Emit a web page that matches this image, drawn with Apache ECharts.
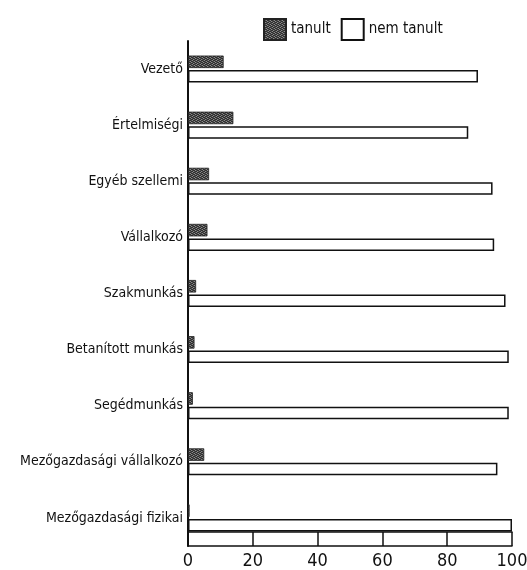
<!DOCTYPE html>
<html>
<head>
<meta charset="utf-8">
<script src="https://cdn.jsdelivr.net/npm/echarts@6/dist/echarts.min.js"></script>
<style>
html,body{margin:0;padding:0;background:#fff;}
#chart{width:527px;height:570px;}
</style>
</head>
<body>
<div id="chart"></div>
<script>
var categories = ['Vezető', 'Értelmiségi', 'Egyéb szellemi', 'Vállalkozó', 'Szakmunkás', 'Betanított munkás', 'Segédmunkás', 'Mezőgazdasági vállalkozó', 'Mezőgazdasági fizikai'];
var tanult = [11, 14, 6.5, 6, 2.5, 2, 1.5, 5, 0.5];
var nemTanult = [89.5, 86.5, 94, 94.5, 98, 99, 99, 95.5, 100];
var seriesNames = ['tanult', 'nem tanult'];
var xTicks = [0, 20, 40, 60, 80, 100];

var FONT = '"Liberation Sans Narrow", "DejaVu Sans Condensed", "Arial Narrow", sans-serif';

// dithered dark-gray texture for the 'tanult' bars
var pc = document.createElement('canvas');
pc.width = 4; pc.height = 4;
var pctx = pc.getContext('2d');
pctx.fillStyle = '#2f2f2f';
pctx.fillRect(0, 0, 4, 4);
pctx.fillStyle = '#8a8a8a';
[[0,0],[2,1],[1,3],[3,2]].forEach(function (p) { pctx.fillRect(p[0], p[1], 1, 1); });
pctx.fillStyle = '#555555';
[[2,3],[0,2],[3,0],[1,1]].forEach(function (p) { pctx.fillRect(p[0], p[1], 1, 1); });
var texture = { image: pc, repeat: 'repeat' };

var chart = echarts.init(document.getElementById('chart'), null, { renderer: 'canvas' });
chart.setOption({
  backgroundColor: '#ffffff',
  animation: false,
  textStyle: { fontFamily: FONT, color: '#111' },
  legend: {
    top: 13,
    left: 258,
    icon: 'rect',
    itemWidth: 22,
    itemHeight: 21,
    itemGap: 10,
    textStyle: { fontFamily: FONT, fontSize: 15, color: '#111' },
    data: seriesNames
  },
  grid: { left: 188, right: 15, top: 41, bottom: 24, containLabel: false, outerBoundsMode: 'none' },
  xAxis: [{
    type: 'value',
    position: 'bottom',
    min: xTicks[0],
    max: xTicks[xTicks.length - 1],
    interval: 20,
    axisLine: { show: true, lineStyle: { color: '#111', width: 1.5 } },
    axisTick: { show: true, inside: true, length: 14, lineStyle: { color: '#111', width: 1.5 } },
    splitLine: { show: false },
    axisLabel: { fontFamily: FONT, fontSize: 18, color: '#111', margin: 6 }
  }, {
    type: 'value',
    position: 'bottom',
    offset: -14,
    min: xTicks[0],
    max: xTicks[xTicks.length - 1],
    interval: 20,
    axisLine: { show: true, lineStyle: { color: '#111', width: 1.5 } },
    axisTick: { show: false },
    splitLine: { show: false },
    axisLabel: { show: false }
  }],
  yAxis: {
    type: 'category',
    inverse: true,
    data: categories,
    axisLine: { show: true, lineStyle: { color: '#111', width: 2 } },
    axisTick: { show: false },
    axisLabel: { fontFamily: FONT, fontSize: 14, color: '#111', margin: 5 }
  },
  series: [{
    name: seriesNames[0],
    type: 'bar',
    xAxisIndex: 0,
    data: tanult,
    barWidth: 12.5,
    barGap: '16%',
    itemStyle: { color: texture, borderColor: '#222', borderWidth: 0.8 }
  }, {
    name: seriesNames[1],
    type: 'bar',
    xAxisIndex: 0,
    data: nemTanult,
    barWidth: 12.5,
    barGap: '16%',
    itemStyle: { color: '#ffffff', borderColor: '#111', borderWidth: 1.5 }
  }]
});
</script>
</body>
</html>
